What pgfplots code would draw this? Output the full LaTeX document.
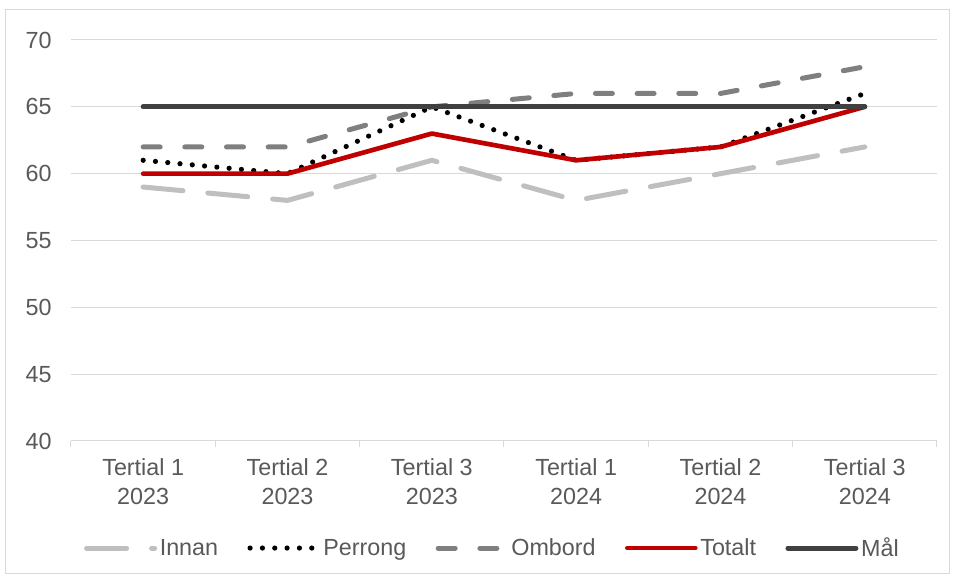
\documentclass[border=0pt]{standalone}
\usepackage{fontspec}
\setmainfont{Liberation Sans}
\usepackage{pgfplots}
\pgfplotsset{compat=1.18}
\definecolor{innan}{HTML}{BFBFBF}
\definecolor{ombord}{HTML}{7F7F7F}
\definecolor{totalt}{HTML}{C00000}
\definecolor{mal}{HTML}{404040}
\definecolor{tick}{HTML}{595959}
\definecolor{gridc}{HTML}{D9D9D9}
\newcommand{\chartfont}{\fontsize{17.5}{22}\selectfont}
\begin{document}
\begin{tikzpicture}
\path[use as bounding box] (-53.25pt,-102pt) rectangle (662.25pt,330.75pt);
\draw[draw=gridc, line width=0.75pt] (-48.75pt,-99.75pt) rectangle (658.5pt,323.25pt);
\begin{axis}[
  scale only axis, width=649.5pt, height=300.75pt,
  xmin=-0.5, xmax=5.5, ymin=40, ymax=70,
  ytick={40,45,...,70},
  xtick={0,...,5},
  xticklabels={{Tertial 1\\2023},{Tertial 2\\2023},{Tertial 3\\2023},{Tertial 1\\2024},{Tertial 2\\2024},{Tertial 3\\2024}},
  xticklabel style={align=center, font=\chartfont, text=tick, yshift=-9.5pt},
  yticklabel style={font=\chartfont, text=tick, xshift=-11pt},
  /pgf/number format/assume math mode=true,
  minor xtick={-0.5,0.5,...,5.5},
  ymajorgrids, grid style={draw=gridc, line width=0.75pt},
  axis x line*=bottom, axis y line*=left,
  x axis line style={draw=gridc, line width=0.75pt},
  y axis line style={draw=none},
  major tick length=0pt, minor tick length=4.5pt, tick align=outside,
  minor x tick style={draw=gridc, line width=0.75pt},
  major tick style={draw=none},
  legend style={at={(0.487,-0.267)}, anchor=center, draw=none, fill=none,
    font=\chartfont, text=tick, inner sep=0pt,
    /tikz/every even column/.append style={column sep=20pt}},
  legend columns=5,
  legend image code/.code={\draw[#1] (0pt,0pt) -- (51pt,0pt);},
]
\addplot[innan, line width=3.75pt, line cap=round, line join=round, dash pattern=on 30pt off 18.75pt]
  coordinates {(0,59) (1,58) (2,61) (3,58) (4,60) (5,62)};
\addlegendentry{Innan}
\addplot[black, line width=3.9pt, line cap=round, dash pattern=on 0pt off 9.25pt]
  coordinates {(0,61) (1,60) (2,65) (3,61) (4,62) (5,66)};
\addlegendentry{Perrong}
\addplot[ombord, line width=3.75pt, line cap=round, line join=round, dash pattern=on 12.75pt off 18.5pt]
  coordinates {(0,62) (1,62) (2,65) (3,66) (4,66) (5,68)};
\addlegendentry{Ombord}
\addplot[totalt, line width=3.5pt, line cap=round, line join=round]
  coordinates {(0,60) (1,60) (2,63) (3,61) (4,62) (5,65)};
\addlegendentry{Totalt}
\addplot[mal, line width=3.75pt, line cap=round]
  coordinates {(0,65) (1,65) (2,65) (3,65) (4,65) (5,65)};
\addlegendentry{Mål}
\end{axis}
\end{tikzpicture}
\end{document}
